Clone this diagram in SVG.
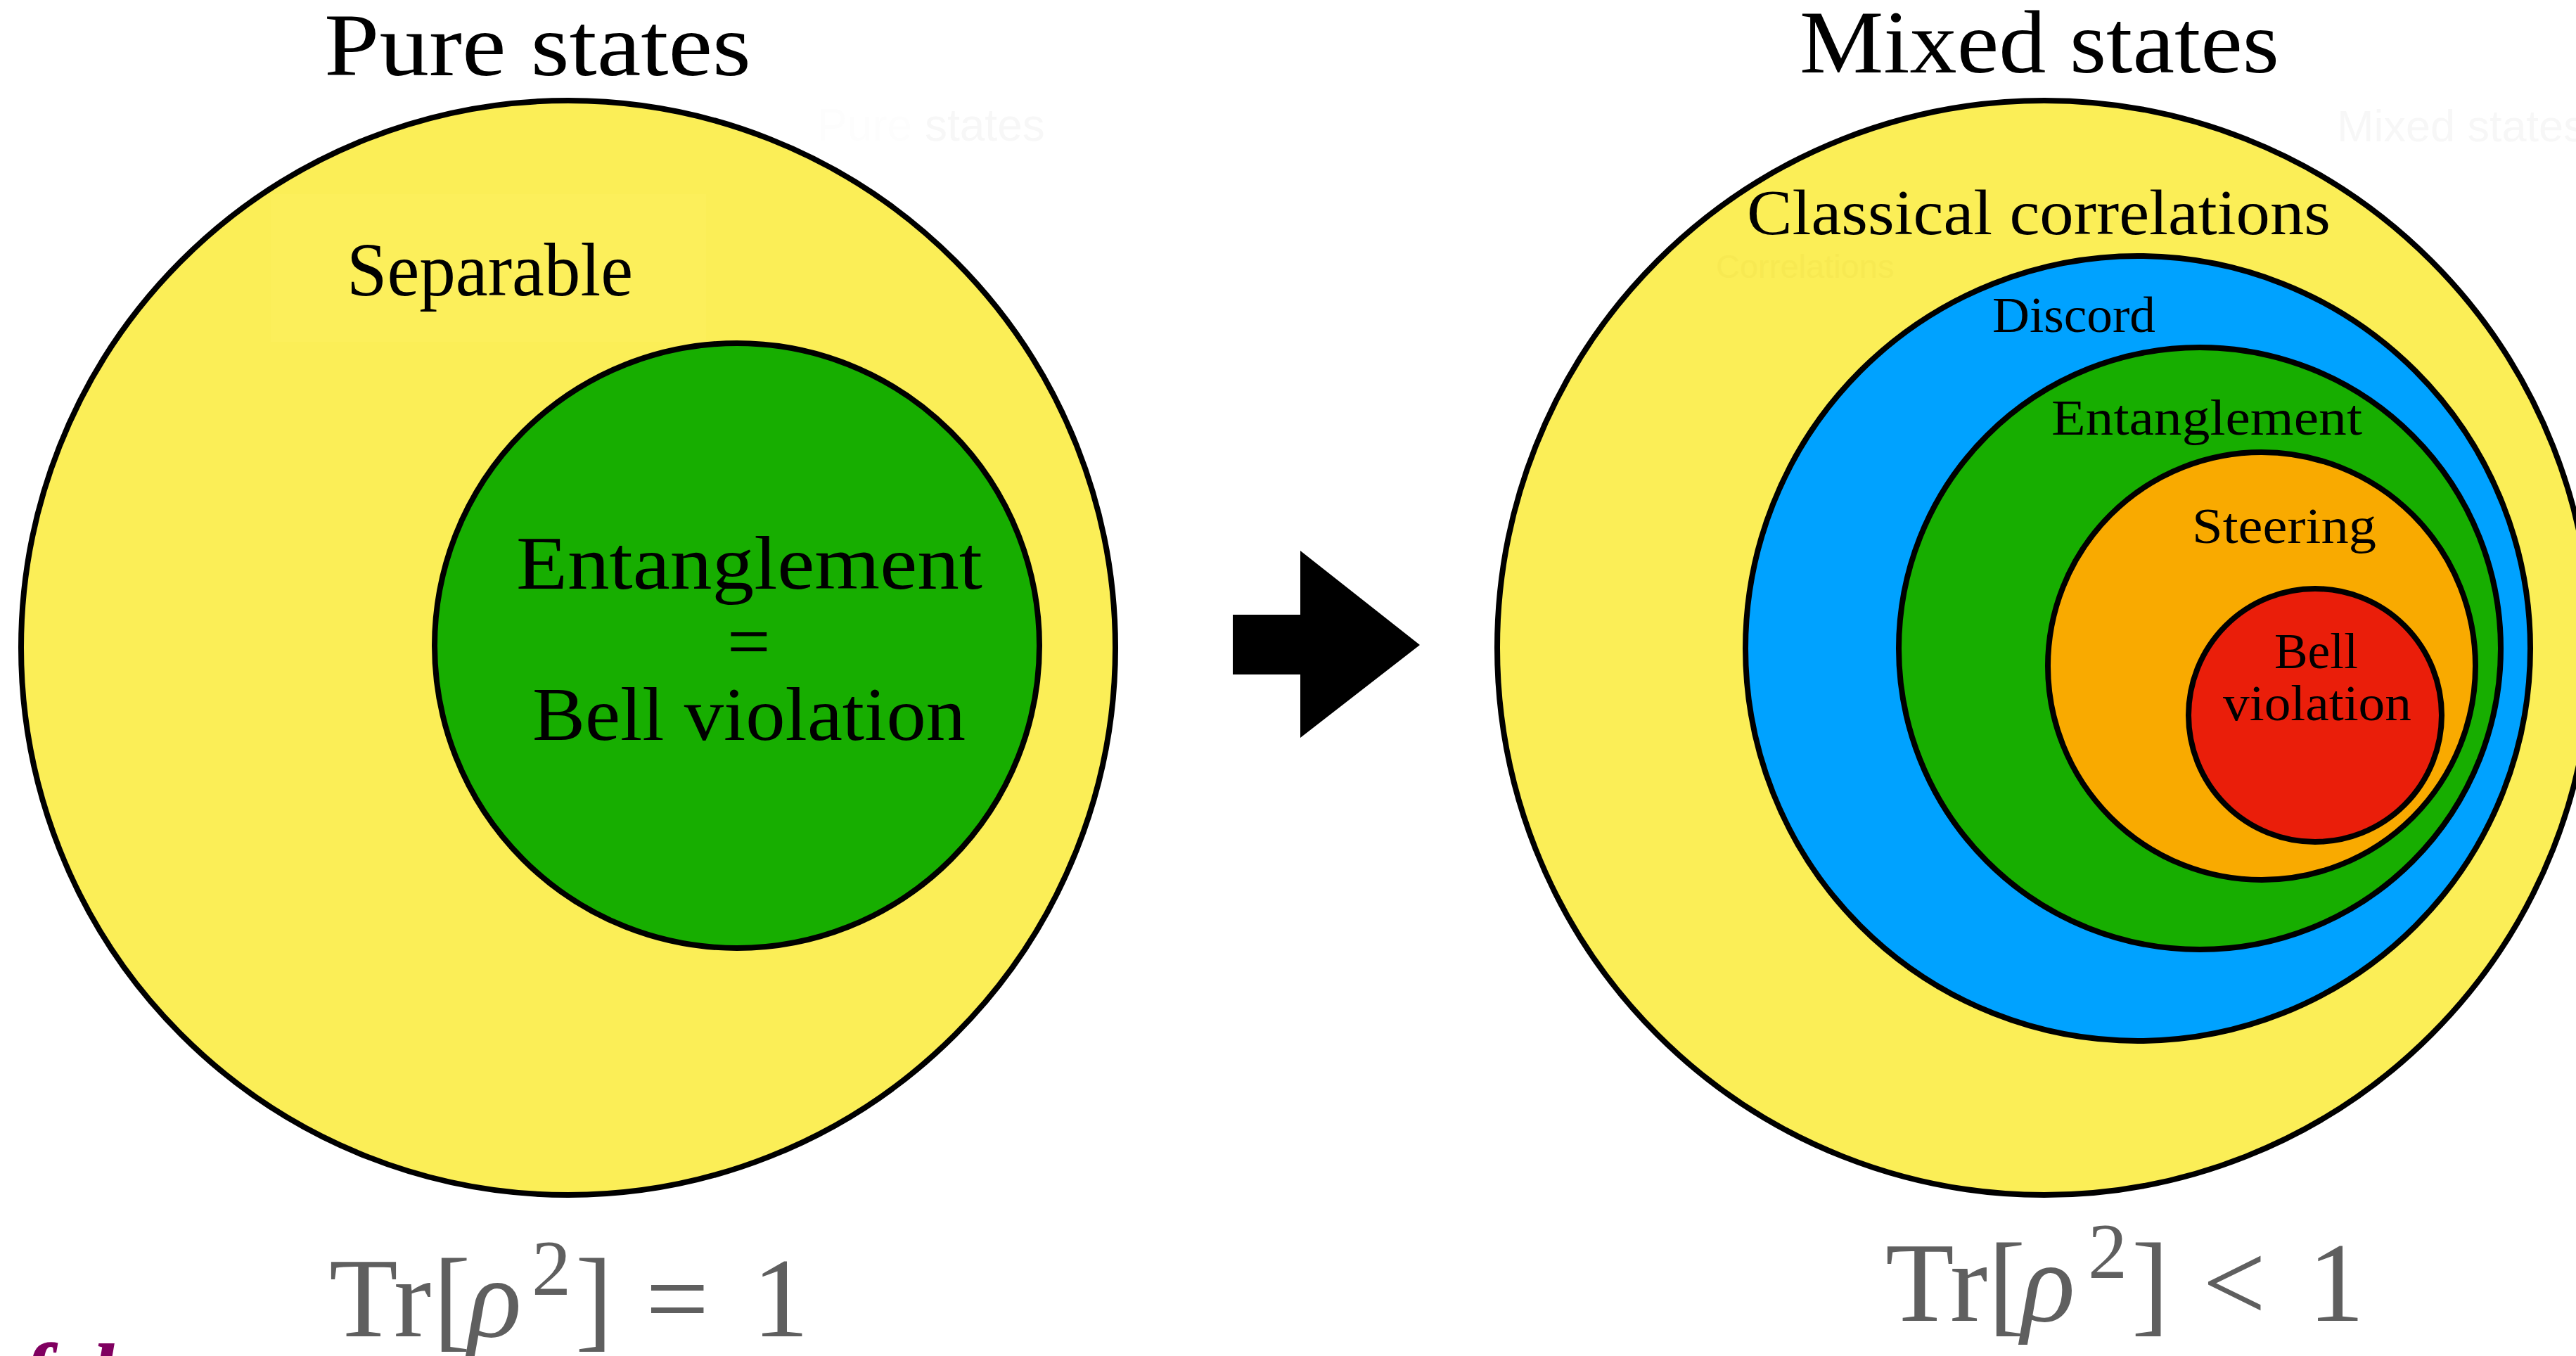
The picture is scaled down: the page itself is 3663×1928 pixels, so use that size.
<svg xmlns="http://www.w3.org/2000/svg" width="3663" height="1928" viewBox="0 0 3663 1928">
<style>
.lbl{font-family:"Liberation Serif","Times New Roman",serif;fill:#000}
.ring{stroke:#000;stroke-width:8}
.ghost{font-family:"Liberation Sans",Arial,sans-serif}
.formula{font-family:"Liberation Serif","Times New Roman",serif;fill:#5f5f5f;font-size:160px}
</style>
<rect x="0" y="0" width="3663" height="1928" fill="#ffffff"/>

<!-- ghost texts -->
<g id="ghosts">
<text class="ghost" x="1162" y="200" font-size="64" fill="#fdfdfd">Pure <tspan fill="#f7f7f7">states</tspan></text>
<text class="ghost" x="3323" y="201" font-size="63" fill="#f7f7f7">Mixed states</text>
</g>

<!-- titles -->
<g id="title-pure"><text class="lbl" x="461" y="107" font-size="128" textLength="607" lengthAdjust="spacingAndGlyphs">Pure states</text></g>
<g id="title-mixed"><text class="lbl" x="2559" y="103" font-size="128" textLength="682" lengthAdjust="spacingAndGlyphs">Mixed states</text></g>

<!-- left diagram -->
<g id="pure-separable">
<circle class="ring" cx="808" cy="921" r="778" fill="#FBEE57"/>
<rect x="385" y="276" width="619" height="210" fill="#FCEF5B"/>
<text class="lbl" x="493" y="420" font-size="109" textLength="407" lengthAdjust="spacingAndGlyphs">Separable</text>
</g>
<g id="pure-entanglement">
<circle class="ring" cx="1048" cy="918" r="430" fill="#17AE00"/>
<text class="lbl" x="734" y="837" font-size="109" textLength="663" lengthAdjust="spacingAndGlyphs">Entanglement</text>
<text class="lbl" x="1034" y="948" font-size="109">=</text>
<text class="lbl" x="757" y="1052" font-size="109" textLength="616" lengthAdjust="spacingAndGlyphs">Bell violation</text>
</g>

<!-- connectors -->
<g id="connectors">
<path d="M1753 874 H1849 V783 L2019 917 L1849 1049 V959 H1753 Z" fill="#000"/>
</g>

<!-- right diagram -->
<g id="mixed-classical">
<circle class="ring" cx="2907" cy="921" r="778" fill="#FBEE57"/>
<text class="ghost" x="2440" y="395" font-size="47" fill="#F7E952">Correlations</text>
<text class="lbl" x="2484" y="333" font-size="91" textLength="830" lengthAdjust="spacingAndGlyphs">Classical correlations</text>
</g>
<g id="mixed-discord">
<circle class="ring" cx="3040" cy="922" r="558" fill="#00A2FF"/>
<text class="lbl" x="2833" y="472" font-size="71" textLength="232" lengthAdjust="spacingAndGlyphs">Discord</text>
</g>
<g id="mixed-entanglement">
<circle class="ring" cx="3128" cy="922" r="428" fill="#17AE00"/>
<text class="lbl" x="2917" y="618" font-size="72" textLength="442" lengthAdjust="spacingAndGlyphs">Entanglement</text>
</g>
<g id="mixed-steering">
<circle class="ring" cx="3216" cy="947" r="304" fill="#F9AA00"/>
<text class="lbl" x="3117" y="772" font-size="71" textLength="262" lengthAdjust="spacingAndGlyphs">Steering</text>
</g>
<g id="mixed-bell">
<circle class="ring" cx="3292" cy="1017" r="180" fill="#EA1E0A"/>
<text class="lbl" x="3234" y="950" font-size="72" textLength="119" lengthAdjust="spacingAndGlyphs">Bell</text>
<text class="lbl" x="3161" y="1024" font-size="72" textLength="268" lengthAdjust="spacingAndGlyphs">violation</text>
</g>

<!-- formulas -->
<g id="formula-pure">
<text class="formula" y="1900"><tspan x="468">Tr</tspan><tspan x="616">[</tspan><tspan x="665" font-style="italic">ρ</tspan><tspan x="756" y="1841" font-size="112">2</tspan><tspan x="818" y="1900">]</tspan><tspan x="918">=</tspan><tspan x="1070">1</tspan></text>
</g>
<g id="formula-mixed">
<text class="formula" y="1878"><tspan x="2681">Tr</tspan><tspan x="2827">[</tspan><tspan x="2874" font-style="italic">ρ</tspan><tspan x="2969" y="1817" font-size="112">2</tspan><tspan x="3031" y="1878">]</tspan><tspan x="3132">&lt;</tspan><tspan x="3282">1</tspan></text>
</g>

<!-- cut-off fragment at bottom-left -->
<g id="fragment">
<text y="1998" font-family="'Liberation Serif',serif" font-weight="bold" font-style="italic" font-size="126" fill="#800060"><tspan x="30">f</tspan><tspan x="128">l</tspan></text>
</g>
</svg>
